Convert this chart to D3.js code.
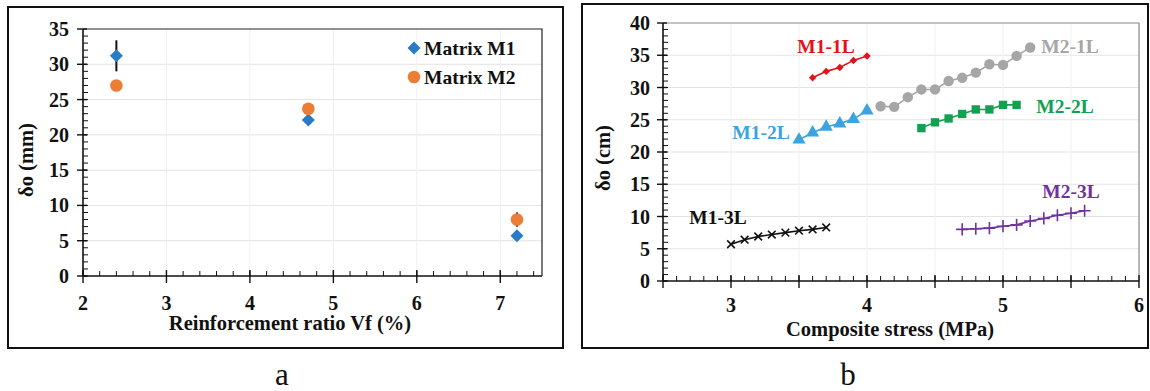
<!DOCTYPE html>
<html>
<head>
<meta charset="utf-8">
<script src="https://cdn.jsdelivr.net/npm/d3@7/dist/d3.min.js"></script>
<style>
  html, body { margin: 0; padding: 0; background: #fff; }
  svg { display: block; font-family: "Liberation Serif", "Times New Roman", serif; }
  .tick-label { font-size: 20px; font-weight: bold; fill: #111; }
  .axis-title { font-size: 20.5px; font-weight: bold; fill: #111; }
  .series-label { font-size: 19.5px; font-weight: bold; }
  .panel-tag { font-size: 31px; fill: #111; }
</style>
</head>
<body>
<div id="chart"></div>
<script>
// ---- panel a: delta_o vs reinforcement ratio ----
const vfRatio = [2.4, 4.7, 7.2];
const m1Delta = [31.2, 22.1, 5.7];
const m1Err = [2.2, 0, 0];
const m2Delta = [27.0, 23.7, 8.0];
const m2Err = [0, 0, 1.0];
const legendNames = ['Matrix M1', 'Matrix M2'];

// ---- panel b: delta_o vs composite stress ----
const seriesNames = ['M1-1L', 'M1-2L', 'M1-3L', 'M2-1L', 'M2-2L', 'M2-3L'];
const m11Stress = [3.6, 3.7, 3.8, 3.9, 4.0];
const m11Delta = [31.5, 32.5, 33.1, 34.2, 34.9];
const m12Stress = [3.5, 3.6, 3.7, 3.8, 3.9, 4.0];
const m12Delta = [21.9, 23.0, 23.9, 24.4, 25.1, 26.4];
const m13Stress = [3.0, 3.1, 3.2, 3.3, 3.4, 3.5, 3.6, 3.7];
const m13Delta = [5.7, 6.4, 6.9, 7.2, 7.5, 7.8, 8.0, 8.3];
const m21Stress = [4.1, 4.2, 4.3, 4.4, 4.5, 4.6, 4.7, 4.8, 4.9, 5.0, 5.1, 5.2];
const m21Delta = [27.1, 27.0, 28.5, 29.7, 29.7, 31.0, 31.5, 32.3, 33.6, 33.5, 34.9, 36.2];
const m22Stress = [4.4, 4.5, 4.6, 4.7, 4.8, 4.9, 5.0, 5.1];
const m22Delta = [23.7, 24.6, 25.2, 25.9, 26.6, 26.6, 27.3, 27.3];
const m23Stress = [4.7, 4.8, 4.9, 5.0, 5.1, 5.2, 5.3, 5.4, 5.5, 5.6];
const m23Delta = [8.0, 8.1, 8.2, 8.5, 8.7, 9.3, 9.7, 10.2, 10.5, 10.9];

const W = 1150, H = 391;
const svg = d3.select('#chart').append('svg')
    .attr('width', W)
    .attr('height', H);

// Draws axes with crossing major ticks and inside minor ticks
function drawFrame(g, x, y, opt) {
    const [x0, x1] = x.range();
    const [y0, y1] = y.range();  // y0 bottom, y1 top

    // gridlines
    g.append('g').selectAll('line')
        .data(opt.yMajor.filter(v => v > y.domain()[0] && v < y.domain()[1]))
      .join('line')
        .attr('x1', x0).attr('x2', x1)
        .attr('y1', d => y(d)).attr('y2', d => y(d))
        .attr('stroke', '#e3e3e3').attr('stroke-width', 1);
    g.append('g').selectAll('line')
        .data(opt.xGrid)
      .join('line')
        .attr('x1', d => x(d)).attr('x2', d => x(d))
        .attr('y1', y0).attr('y2', y1)
        .attr('stroke', '#f0f0f0').attr('stroke-width', 1);

    // plot area border (top, right)
    g.append('path')
        .attr('d', `M${x0},${y1}H${x1}V${y0}`)
        .attr('fill', 'none')
        .attr('stroke', opt.borderColor)
        .attr('stroke-width', 1.2);

    // y axis
    g.append('line')
        .attr('x1', x0).attr('x2', x0).attr('y1', y0).attr('y2', y1)
        .attr('stroke', '#111').attr('stroke-width', 1.6);
    g.append('g').selectAll('line')
        .data(opt.yMinor)
      .join('line')
        .attr('x1', x0).attr('x2', x0 + 5)
        .attr('y1', d => y(d)).attr('y2', d => y(d))
        .attr('stroke', '#111').attr('stroke-width', 1);
    g.append('g').selectAll('line')
        .data(opt.yMajor)
      .join('line')
        .attr('x1', x0 - 6).attr('x2', x0 + 4)
        .attr('y1', d => y(d)).attr('y2', d => y(d))
        .attr('stroke', '#111').attr('stroke-width', 1.4);
    g.append('g').selectAll('text')
        .data(opt.yMajor)
      .join('text')
        .attr('class', 'tick-label')
        .attr('x', x0 - opt.yLabelGap)
        .attr('y', d => y(d))
        .attr('dy', '0.35em')
        .attr('text-anchor', 'end')
        .text(d => d);

    // x axis
    g.append('line')
        .attr('x1', x0).attr('x2', x1).attr('y1', y0).attr('y2', y0)
        .attr('stroke', '#111').attr('stroke-width', 1.6);
    g.append('g').selectAll('line')
        .data(opt.xMinor)
      .join('line')
        .attr('x1', d => x(d)).attr('x2', d => x(d))
        .attr('y1', y0).attr('y2', y0 - 5)
        .attr('stroke', '#111').attr('stroke-width', 1);
    g.append('g').selectAll('line')
        .data(opt.xMajor)
      .join('line')
        .attr('x1', d => x(d)).attr('x2', d => x(d))
        .attr('y1', y0 + 7).attr('y2', y0 - 6)
        .attr('stroke', '#111').attr('stroke-width', 1.4);
    g.append('g').selectAll('text')
        .data(opt.xLabels)
      .join('text')
        .attr('class', 'tick-label')
        .attr('x', d => x(d))
        .attr('y', y0 + opt.xLabelGap)
        .attr('text-anchor', 'middle')
        .text(d => d);

    // titles
    g.append('text')
        .attr('class', 'axis-title')
        .attr('x', opt.xTitlePos[0]).attr('y', opt.xTitlePos[1])
        .attr('text-anchor', 'middle')
        .text(opt.xTitle);
    g.append('text')
        .attr('class', 'axis-title')
        .attr('transform', `translate(${opt.yTitlePos[0]},${opt.yTitlePos[1]}) rotate(-90)`)
        .attr('text-anchor', 'middle')
        .text(opt.yTitle);
}

function stepRange(a, b, s) {
    const out = [];
    for (let i = 0; a + i * s <= b + 1e-9; i++) out.push(+(a + i * s).toFixed(3));
    return out;
}

// ================= Panel a =================
const gA = svg.append('g');
gA.append('rect')
    .attr('x', 8).attr('y', 7).attr('width', 555).attr('height', 341)
    .attr('fill', '#fff').attr('stroke', '#111').attr('stroke-width', 2);

const xA = d3.scaleLinear().domain([2, 7.5]).range([83, 542]);
const yA = d3.scaleLinear().domain([0, 35]).range([276, 29]);

drawFrame(gA, xA, yA, {
    yMajor: d3.range(0, 36, 5),
    yMinor: d3.range(0, 35, 1),
    xMajor: d3.range(2, 8, 1),
    xMinor: stepRange(2, 7.4, 0.2),
    xLabels: d3.range(2, 8, 1),
    xGrid: [3, 4, 5, 6, 7],
    borderColor: '#222',
    yLabelGap: 14,
    xLabelGap: 34,
    xTitle: 'Reinforcement ratio Vf (%)',
    xTitlePos: [290, 330],
    yTitle: 'δo (mm)',
    yTitlePos: [33, 160]
});

const colM1 = '#2a7bc6', colM2 = '#ec7d35';
const ptsA1 = vfRatio.map((v, i) => ({ x: v, y: m1Delta[i], e: m1Err[i] }));
const ptsA2 = vfRatio.map((v, i) => ({ x: v, y: m2Delta[i], e: m2Err[i] }));

// error bars
gA.append('g').selectAll('line')
    .data(ptsA1.concat(ptsA2).filter(d => d.e > 0))
  .join('line')
    .attr('x1', d => xA(d.x)).attr('x2', d => xA(d.x))
    .attr('y1', d => yA(d.y - d.e)).attr('y2', d => yA(d.y + d.e))
    .attr('stroke', '#111').attr('stroke-width', 2);

const diamond = d3.symbol().type(d3.symbolSquare).size(84);
gA.append('g').selectAll('path')
    .data(ptsA1)
  .join('path')
    .attr('d', diamond)
    .attr('transform', d => `translate(${xA(d.x)},${yA(d.y)}) rotate(45)`)
    .attr('fill', colM1);
gA.append('g').selectAll('circle')
    .data(ptsA2)
  .join('circle')
    .attr('cx', d => xA(d.x)).attr('cy', d => yA(d.y))
    .attr('r', 6.3)
    .attr('fill', colM2);

// legend
const legA = gA.append('g');
legA.append('path')
    .attr('d', diamond)
    .attr('transform', 'translate(414,48) rotate(45)')
    .attr('fill', colM1);
legA.append('circle')
    .attr('cx', 414).attr('cy', 77).attr('r', 6.3)
    .attr('fill', colM2);
legA.selectAll('text')
    .data(legendNames)
  .join('text')
    .attr('class', 'series-label')
    .attr('x', 424)
    .attr('y', (d, i) => 48 + i * 29)
    .attr('dy', '0.35em')
    .attr('fill', '#111')
    .text(d => d);

svg.append('text')
    .attr('class', 'panel-tag')
    .attr('x', 282).attr('y', 385)
    .attr('text-anchor', 'middle')
    .text('a');

// ================= Panel b =================
const gB = svg.append('g');
gB.append('rect')
    .attr('x', 582).attr('y', 4).attr('width', 566).attr('height', 344)
    .attr('fill', '#fff').attr('stroke', '#111').attr('stroke-width', 2);

const xB = d3.scaleLinear().domain([2.5, 6]).range([663, 1139]);
const yB = d3.scaleLinear().domain([0, 40]).range([281, 23]);

drawFrame(gB, xB, yB, {
    yMajor: d3.range(0, 41, 5),
    yMinor: d3.range(0, 40, 1),
    xMajor: stepRange(2.5, 6, 0.5),
    xMinor: stepRange(2.6, 5.9, 0.1),
    xLabels: [3, 4, 5, 6],
    xGrid: [3, 3.5, 4, 4.5, 5, 5.5],
    borderColor: '#888',
    yLabelGap: 13,
    xLabelGap: 31,
    xTitlePos: [890, 336],
    xTitle: 'Composite stress (MPa)',
    yTitle: 'δo (cm)',
    yTitlePos: [610, 158]
});

const seriesB = [
    { name: seriesNames[0], xs: m11Stress, ys: m11Delta, color: '#e3121b', type: d3.symbolSquare, size: 28, rot: 45, stroke: false, lab: [826, 46] },
    { name: seriesNames[1], xs: m12Stress, ys: m12Delta, color: '#3ba3dd', type: d3.symbolTriangle, size: 75, rot: 0, stroke: false, lab: [761, 132] },
    { name: seriesNames[2], xs: m13Stress, ys: m13Delta, color: '#111111', type: d3.symbolTimes, size: 40, rot: 0, stroke: true, lab: [718, 217] },
    { name: seriesNames[3], xs: m21Stress, ys: m21Delta, color: '#a6a6a6', type: d3.symbolCircle, size: 85, rot: 0, stroke: false, lab: [1070, 46] },
    { name: seriesNames[4], xs: m22Stress, ys: m22Delta, color: '#12a150', type: d3.symbolSquare, size: 70, rot: 0, stroke: false, lab: [1065, 106] },
    { name: seriesNames[5], xs: m23Stress, ys: m23Delta, color: '#7032a0', type: d3.symbolPlus, size: 50, rot: 0, stroke: true, lab: [1071, 191] }
];

const line = d3.line().x(d => xB(d[0])).y(d => yB(d[1]));

seriesB.forEach(s => {
    const pts = s.xs.map((v, i) => [v, s.ys[i]]);
    const g = gB.append('g');
    g.append('path')
        .attr('d', line(pts))
        .attr('fill', 'none')
        .attr('stroke', s.color)
        .attr('stroke-width', 1.6);
    const sym = d3.symbol().type(s.type).size(s.size);
    g.selectAll('path.mark')
        .data(pts)
      .join('path')
        .attr('class', 'mark')
        .attr('d', sym)
        .attr('transform', d => `translate(${xB(d[0])},${yB(d[1])}) rotate(${s.rot})`)
        .attr('fill', s.stroke ? 'none' : s.color)
        .attr('stroke', s.stroke ? s.color : 'none')
        .attr('stroke-width', 1.6);
    g.append('text')
        .attr('class', 'series-label')
        .attr('x', s.lab[0]).attr('y', s.lab[1])
        .attr('dy', '0.35em')
        .attr('text-anchor', 'middle')
        .attr('fill', s.color)
        .text(s.name);
});

svg.append('text')
    .attr('class', 'panel-tag')
    .attr('x', 848).attr('y', 385)
    .attr('text-anchor', 'middle')
    .text('b');
</script>
</body>
</html>
